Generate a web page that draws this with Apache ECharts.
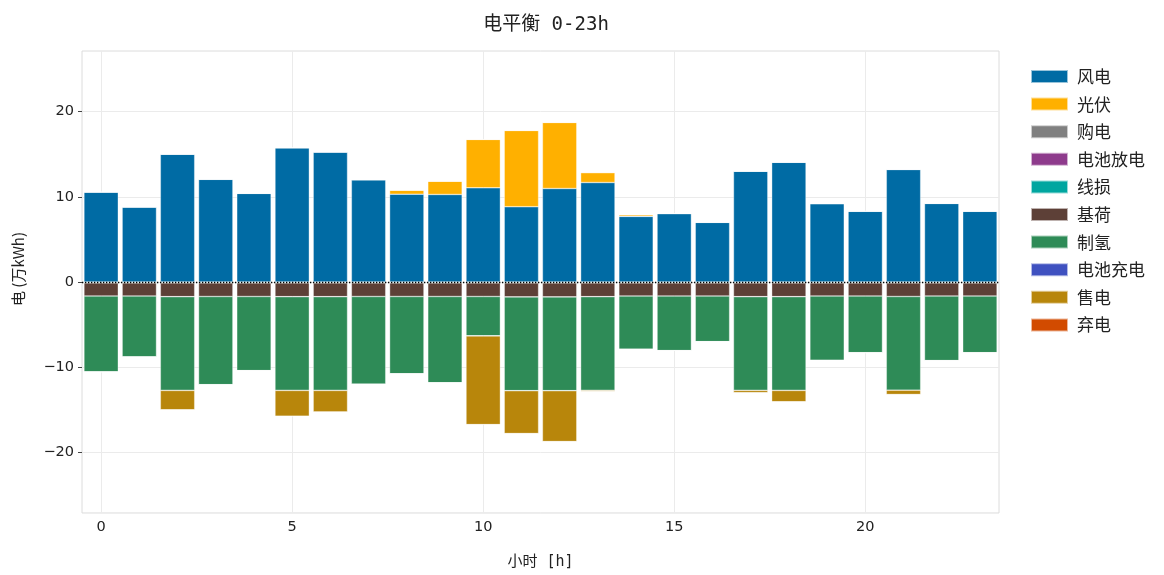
<!DOCTYPE html>
<html>
<head>
<meta charset="utf-8">
<script src="https://cdn.jsdelivr.net/npm/echarts@6/dist/echarts.min.js"></script>
<style>
  html, body { margin: 0; padding: 0; background: #fff; }
  #chart { width: 1164px; height: 575px; }
</style>
</head>
<body>
<div id="chart"></div>
<script>
// Hourly electricity balance (万kWh): supply stacked above zero, consumption below.
const hours = Array.from({ length: 24 }, (_, i) => String(i));
const yTicks = [-20, -10, 0, 10, 20];

// supply side
const wind      = [10.55, 8.8, 15.0, 12.05, 10.4, 15.75, 15.25, 12.0, 10.3, 10.27, 11.05, 8.83, 10.97, 11.67, 7.7, 8.02, 7.0, 13.0, 14.05, 9.2, 8.3, 13.2, 9.22, 8.3];
const solar     = [0, 0, 0, 0, 0, 0, 0, 0, 0.48, 1.56, 5.68, 8.95, 7.75, 1.17, 0.2, 0.03, 0, 0, 0, 0, 0, 0, 0, 0];
const purchase  = [0, 0, 0, 0, 0, 0, 0, 0, 0, 0, 0, 0, 0, 0, 0, 0, 0, 0, 0, 0, 0, 0, 0, 0];
const discharge = [0, 0, 0, 0, 0, 0, 0, 0, 0, 0, 0, 0, 0, 0, 0, 0, 0, 0, 0, 0, 0, 0, 0, 0];

// demand side (negative)
const lineLoss  = [-0.1, -0.1, -0.1, -0.1, -0.1, -0.1, -0.1, -0.1, -0.1, -0.1, -0.1, -0.1, -0.1, -0.1, -0.1, -0.1, -0.1, -0.1, -0.1, -0.1, -0.1, -0.1, -0.1, -0.1];
const baseLoad  = [-1.55, -1.55, -1.62, -1.6, -1.6, -1.62, -1.62, -1.6, -1.6, -1.6, -1.6, -1.65, -1.65, -1.62, -1.55, -1.55, -1.55, -1.62, -1.62, -1.55, -1.55, -1.6, -1.55, -1.55];
const hydrogen  = [-8.9, -7.15, -11.0, -10.35, -8.7, -11.0, -11.0, -10.3, -9.08, -10.13, -4.62, -11.0, -11.0, -11.0, -6.25, -6.4, -5.35, -11.0, -11.0, -7.55, -6.65, -11.0, -7.57, -6.65];
const charge    = [0, 0, 0, 0, 0, 0, 0, 0, 0, 0, 0, 0, 0, 0, 0, 0, 0, 0, 0, 0, 0, 0, 0, 0];
const sale      = [0, 0, -2.28, 0, 0, -3.03, -2.53, 0, 0, 0, -10.41, -5.03, -5.97, -0.12, 0, 0, 0, -0.28, -1.33, 0, 0, -0.5, 0, 0];
const curtail   = [0, 0, 0, 0, 0, 0, 0, 0, 0, 0, 0, 0, 0, 0, 0, 0, 0, 0, 0, 0, 0, 0, 0, 0];

const seriesDefs = [
  { name: '风电',     data: wind,      color: '#006BA4' },
  { name: '光伏',     data: solar,     color: '#FFB000' },
  { name: '购电',     data: purchase,  color: '#808080' },
  { name: '电池放电', data: discharge, color: '#8E3B8C' },
  { name: '线损',     data: lineLoss,  color: '#00A6A0' },
  { name: '基荷',     data: baseLoad,  color: '#5D4037' },
  { name: '制氢',     data: hydrogen,  color: '#2E8B57' },
  { name: '电池充电', data: charge,    color: '#3F51C0' },
  { name: '售电',     data: sale,      color: '#B8860B' },
  { name: '弃电',     data: curtail,   color: '#D24B00' }
];

const CJK = '"Noto Sans CJK SC", "DejaVu Sans", sans-serif';
const MONO_CJK = '"DejaVu Sans Mono", "Noto Sans CJK SC", monospace';
const NUM = '"DejaVu Sans", sans-serif';

const series = seriesDefs.map((s, i) => ({
  name: s.name,
  type: 'bar',
  stack: 'balance',
  data: s.data,
  barCategoryGap: '10%',
  itemStyle: { color: s.color, borderColor: 'rgba(255,255,255,0.6)', borderWidth: 0.6 },
  emphasis: { disabled: true },
  markLine: i === 0 ? {
    silent: true,
    symbol: 'none',
    label: { show: false },
    lineStyle: { color: '#000', type: [1.3, 1.7], width: 1.3, opacity: 1 },
    data: [{ yAxis: 0 }]
  } : undefined
}));

const chart = echarts.init(document.getElementById('chart'), null, { renderer: 'canvas' });
chart.setOption({
  animation: false,
  backgroundColor: '#ffffff',
  title: {
    text: '电平衡 0-23h',
    left: 541,
    top: 11,
    textAlign: 'center',
    textStyle: { fontFamily: MONO_CJK, fontSize: 19, fontWeight: 'normal', color: '#222' }
  },
  legend: {
    orient: 'vertical',
    left: 1025,
    top: 63,
    icon: 'rect',
    itemWidth: 37,
    itemHeight: 13,
    itemGap: 10.6,
    textStyle: { fontFamily: CJK, fontSize: 17, lineHeight: 17, color: '#222', padding: [0, 0, 0, 4] },
    data: seriesDefs.map(s => s.name)
  },
  grid: {
    left: 82, right: 165, top: 51, bottom: 59,
    show: true, borderColor: '#dcdcdc', borderWidth: 1
  },
  xAxis: {
    type: 'category',
    data: hours,
    boundaryGap: true,
    name: '小时 [h]',
    nameLocation: 'middle',
    nameGap: 42,
    nameTextStyle: { fontFamily: MONO_CJK, fontSize: 15, color: '#222' },
    axisLine: { show: false },
    axisTick: { show: true, alignWithLabel: true, interval: 4, length: 4, lineStyle: { color: '#444' } },
    axisLabel: { interval: 4, fontFamily: NUM, fontSize: 14.5, color: '#222', margin: 7 },
    splitLine: { show: true, alignWithLabel: true, interval: 4, lineStyle: { color: '#ebebeb', width: 1 } }
  },
  yAxis: {
    type: 'value',
    min: -27.1,
    max: 27.1,
    name: '电 (万kWh)',
    nameLocation: 'middle',
    nameGap: 56,
    nameTextStyle: { fontFamily: CJK, fontSize: 15, color: '#222', padding: [0, 0, 0, 26] },
    axisLine: { show: false },
    axisTick: { show: true, length: 4, customValues: yTicks, lineStyle: { color: '#444' } },
    axisLabel: {
      fontFamily: NUM, fontSize: 14.5, color: '#222', margin: 8,
      customValues: yTicks,
      formatter: v => (Math.abs(v % 10) < 1e-9 ? String(v).replace('-', '\u2212') : '')
    },
    splitLine: { show: true, lineStyle: { color: '#ebebeb', width: 1 } }
  },
  series: series
});
</script>
</body>
</html>
